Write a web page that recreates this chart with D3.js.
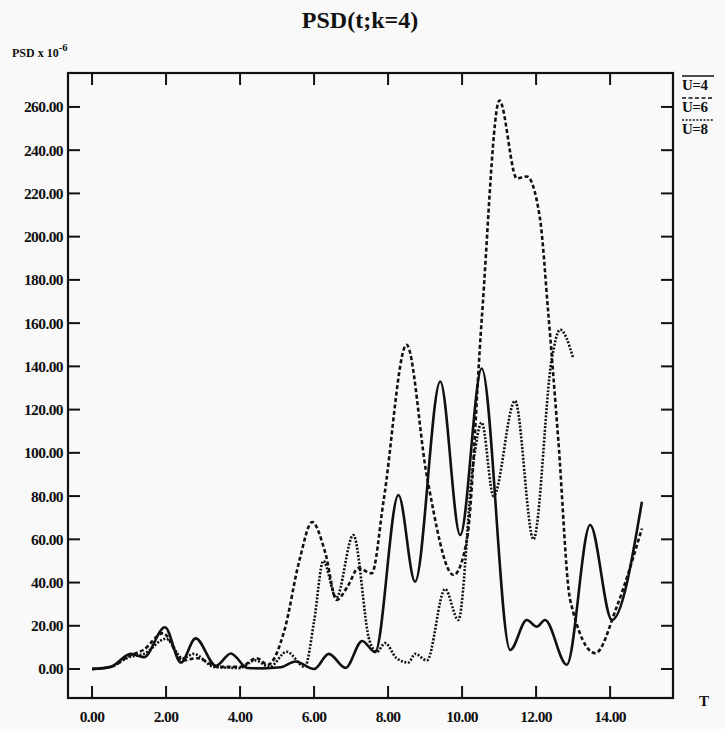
<!DOCTYPE html>
<html>
<head>
<meta charset="utf-8">
<script src="https://cdn.jsdelivr.net/npm/d3@7"></script>
<style>
  body { margin: 0; background: #f9f9f9; }
  svg { display: block; }
  text { font-family: 'Liberation Serif', 'Times New Roman', serif; font-weight: bold; fill: #111; }
</style>
</head>
<body>
<div id="chart"></div>
<script>
// U=4 (solid)
let tU4 = [0, 0.5, 1.05, 1.4, 1.97, 2.4, 2.8, 3.35, 3.75, 4.2, 4.6, 5.1, 5.5, 6.0, 6.4, 6.85, 7.3, 7.65, 8.28, 8.73, 9.41, 9.95, 10.53, 11.3, 11.75, 12.02, 12.24, 12.83, 13.46, 14.05, 14.86]
let vU4 = [0, 1, 7, 5.5, 19.3, 3, 14.2, 1.5, 7.2, 0.5, 0.3, 0.8, 3.5, 0, 7, 0.5, 13, 7.8, 80.5, 40.4, 133, 62, 139, 8.8, 22.7, 19.6, 22.7, 2, 66.6, 22.7, 77.4]

// U=6 (dashed)
let tU6 = [0, 0.5, 1.0, 1.4, 1.92, 2.45, 2.85, 3.4, 4.0, 4.45, 4.75, 5.2, 5.6, 5.95, 6.3, 6.61, 6.9, 7.2, 7.56, 7.88, 8.5, 9.05, 9.77, 10.13, 10.53, 11.01, 11.48, 11.75, 12.1, 12.33, 12.6, 12.92, 13.6, 14.18, 14.86]
let vU6 = [0, 1, 6, 9, 16.6, 4, 5, 1, 1, 5, 2, 18, 50, 68, 54, 32, 38, 46.6, 44.3, 78, 150, 89, 43.5, 59.7, 161.5, 263, 227, 227.8, 209, 164.5, 106, 32, 7.3, 28.8, 65]

// U=8 (dotted)
let tU8 = [0, 0.5, 1.0, 1.4, 2.0, 2.45, 2.75, 3.3, 4.0, 4.4, 4.8, 5.26, 5.75, 6.0, 6.25, 6.6, 7.06, 7.5, 7.7, 7.92, 8.23, 8.55, 8.73, 9.05, 9.54, 9.9, 10.3, 10.53, 10.85, 11.43, 11.93, 12.42, 12.65, 13.0]
let vU8 = [0, 1, 5.5, 7, 14, 5, 7, 1, 0.5, 4, 1, 8, 1, 22, 50, 33, 62, 13, 8, 12, 5, 3, 7, 4, 37, 22.7, 95, 114, 80, 124, 60, 143, 157, 144]

let xTicks = [0, 2, 4, 6, 8, 10, 12, 14]
let yTicks = [0, 20, 40, 60, 80, 100, 120, 140, 160, 180, 200, 220, 240, 260]
let legendLabels = ['U=4', 'U=6', 'U=8']

let width = 725
let height = 729

let svg = d3
  .select('#chart')
  .append('svg')
  .attr('width', width)
  .attr('height', height)

svg.append('rect').attr('width', width).attr('height', height).attr('fill', '#f9f9f9')

let x = d3.scaleLinear().domain([-0.65, 15.7]).range([68, 673])
let y = d3.scaleLinear().domain([-13.4, 275.7]).range([698, 73])

// frame
svg
  .append('rect')
  .attr('x', x(-0.65))
  .attr('y', y(275.7))
  .attr('width', x(15.7) - x(-0.65))
  .attr('height', y(-13.4) - y(275.7))
  .attr('fill', 'none')
  .attr('stroke', '#111')
  .attr('stroke-width', 2.2)

// ticks on all four sides, pointing inward
let tickLen = 12
svg.selectAll('.ytick-l').data(yTicks).enter().append('line')
  .attr('x1', x(-0.65)).attr('x2', x(-0.65) + tickLen)
  .attr('y1', d => y(d)).attr('y2', d => y(d))
  .attr('stroke', '#111').attr('stroke-width', 2)
svg.selectAll('.ytick-r').data(yTicks).enter().append('line')
  .attr('x1', x(15.7)).attr('x2', x(15.7) - tickLen)
  .attr('y1', d => y(d)).attr('y2', d => y(d))
  .attr('stroke', '#111').attr('stroke-width', 2)
svg.selectAll('.xtick-b').data(xTicks).enter().append('line')
  .attr('x1', d => x(d)).attr('x2', d => x(d))
  .attr('y1', y(-13.4)).attr('y2', y(-13.4) - tickLen)
  .attr('stroke', '#111').attr('stroke-width', 2)
svg.selectAll('.xtick-t').data(xTicks).enter().append('line')
  .attr('x1', d => x(d)).attr('x2', d => x(d))
  .attr('y1', y(275.7)).attr('y2', y(275.7) + tickLen)
  .attr('stroke', '#111').attr('stroke-width', 2)

let fmt = d3.format('.2f')

svg.selectAll('.ylabel').data(yTicks).enter().append('text')
  .attr('x', 63)
  .attr('y', d => y(d))
  .attr('dy', '0.35em')
  .attr('text-anchor', 'end')
  .attr('font-size', 15.5)
  .attr('letter-spacing', -0.6)
  .text(d => fmt(d))

svg.selectAll('.xlabel').data(xTicks).enter().append('text')
  .attr('x', d => x(d))
  .attr('y', 722)
  .attr('text-anchor', 'middle')
  .attr('font-size', 15.5)
  .attr('letter-spacing', -0.6)
  .text(d => fmt(d))

// titles
svg.append('text')
  .attr('x', 360)
  .attr('y', 28)
  .attr('text-anchor', 'middle')
  .attr('font-size', 24)
  .text('PSD(t;k=4)')

let yl = svg.append('text').attr('x', 12).attr('y', 57).attr('font-size', 12)
yl.append('tspan').text('PSD x 10')
yl.append('tspan').attr('dy', -6).attr('font-size', 10.5).text('-6')

svg.append('text')
  .attr('x', 704)
  .attr('y', 706)
  .attr('text-anchor', 'middle')
  .attr('font-size', 15)
  .text('T')

// curves
let series = [
  { t: tU4, v: vU4, dash: null },
  { t: tU6, v: vU6, dash: '4,2.5' },
  { t: tU8, v: vU8, dash: '2,1.6' }
]

let line = d3
  .line()
  .x(d => x(d[0]))
  .y(d => y(d[1]))
  .curve(d3.curveMonotoneX)

svg.selectAll('.curve').data(series).enter().append('path')
  .attr('class', 'curve')
  .attr('d', d => line(d3.zip(d.t, d.v)))
  .attr('fill', 'none')
  .attr('stroke', '#111')
  .attr('stroke-width', 2.6)
  .attr('stroke-dasharray', d => d.dash)

// legend: label with an overline drawn in the series' line style
let legend = svg.append('g').attr('transform', 'translate(682, 76)')

legend.selectAll('.legend-entry').data(legendLabels).enter().append('g')
  .attr('class', 'legend-entry')
  .attr('transform', (d, i) => `translate(0,${i * 22})`)
  .each(function (d, i) {
    let g = d3.select(this)
    g.append('line')
      .attr('x1', 0).attr('x2', 32)
      .attr('y1', 0).attr('y2', 0)
      .attr('stroke', '#111')
      .attr('stroke-width', 1.5)
      .attr('stroke-dasharray', series[i].dash)
    g.append('text')
      .attr('x', 0)
      .attr('y', 14)
      .attr('font-size', 15)
      .attr('letter-spacing', -0.5)
      .text(d)
  })
</script>
</body>
</html>
